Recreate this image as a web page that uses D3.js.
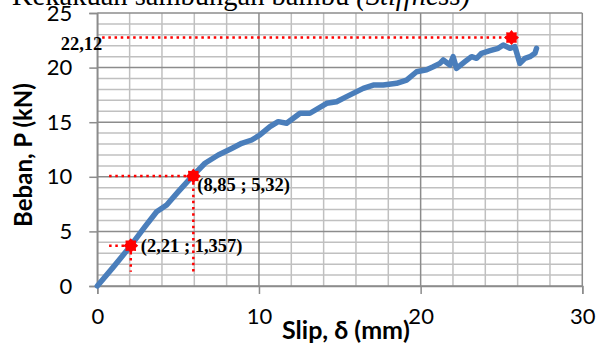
<!DOCTYPE html>
<html><head><meta charset="utf-8">
<script src="https://cdn.jsdelivr.net/npm/d3@7/dist/d3.min.js"></script>
<style>body{margin:0;background:#fff;}svg{display:block;}</style>
</head><body>
<svg id="c" width="597" height="345"></svg>
<script>
const slip = [0,1,2.07,2.95,3.67,4.29,5.01,5.84,6.66,7.48,8.31,8.93,9.55,10.06,10.68,11.19,11.71,12.54,13.15,14.19,14.8,15.42,16.45,17.07,17.69,18.51,19.13,19.75,20.37,20.78,21.19,21.4,21.81,22.01,22.22,22.74,23.15,23.46,23.77,24.29,24.8,25.11,25.52,25.83,26.14,26.45,26.76,27.07,27.17];
const load = [0,1.75,3.69,5.43,6.8,7.42,8.64,10.0,11.24,12.0,12.6,13.07,13.37,13.83,14.59,15.05,14.9,15.82,15.82,16.73,16.88,17.34,18.1,18.4,18.4,18.56,18.86,19.62,19.8,20.08,20.39,20.7,20.24,21.0,19.93,20.54,21.0,20.85,21.31,21.55,21.77,22.07,21.77,21.92,20.39,20.85,21.0,21.31,21.77];
const markX = [2.07,5.94,25.62];
const markY = [3.69,10.07,22.75];
const markLabels = ["(2,21 ; 1,357)","(8,85 ; 5,32)","22,12"];
const guideXStart = [0.73,0.73,0.3];
const guideYEnd = [1.3,1.3,null];
const xTicks = [0,10,20,30];
const yTicks = [0,5,10,15,20,25];
const title = "Kekakuan sambungan bambu ";
const titleItalic = "(Stiffness)";
const xTitle = "Slip, δ (mm)";
const yTitle = "Beban, P (kN)";

const svg = d3.select("#c");
const x = d3.scaleLinear().domain([0,30]).range([97.3,582.3]);
const y = d3.scaleLinear().domain([0,25]).range([286,13]);

// grid
const g = svg.append("g");
const minorX = d3.range(0,31,2).filter(v=>v%10!==0);
const minorY = d3.range(0,26,1).filter(v=>v%5!==0);
g.selectAll(".mx").data(minorX).join("line").attr("x1",d=>x(d)).attr("x2",d=>x(d)).attr("y1",y(0)).attr("y2",y(25)).attr("stroke","#c0c0c0").attr("stroke-width",1.5);
g.selectAll(".my").data(minorY).join("line").attr("y1",d=>y(d)).attr("y2",d=>y(d)).attr("x1",x(0)).attr("x2",x(30)).attr("stroke","#c0c0c0").attr("stroke-width",1.5);
g.selectAll(".Mx").data(xTicks).join("line").attr("x1",d=>x(d)).attr("x2",d=>x(d)).attr("y1",y(0)).attr("y2",y(25)).attr("stroke","#8c8c8c").attr("stroke-width",1.5);
g.selectAll(".My").data(yTicks).join("line").attr("y1",d=>y(d)).attr("y2",d=>y(d)).attr("x1",x(0)).attr("x2",x(30)).attr("stroke","#8c8c8c").attr("stroke-width",1.5);

// axes
const ax = svg.append("g").attr("transform",`translate(0,${y(0)})`)
  .call(d3.axisBottom(x).tickValues(xTicks).tickSize(8).tickPadding(14).tickFormat(d3.format("d")));
const ay = svg.append("g").attr("transform",`translate(${x(0)},0)`)
  .call(d3.axisLeft(y).tickValues(yTicks).tickSize(8).tickPadding(17).tickFormat(d3.format("d")));
[ax,ay].forEach(a=>{
  a.selectAll("path,line").attr("stroke","#8c8c8c").attr("stroke-width",1.5);
  a.selectAll("text").attr("font-family","Lato").attr("font-size",22).attr("fill","#000");
});

// guides
const gl = svg.append("g").attr("stroke","#ff0000").attr("stroke-width",2.5).attr("stroke-dasharray","2.5,3.7").attr("fill","none");
markX.forEach((mx,i)=>{
  gl.append("line").attr("x1",x(guideXStart[i])).attr("x2",x(mx)).attr("y1",y(markY[i])).attr("y2",y(markY[i]));
  if(guideYEnd[i]!==null) gl.append("line").attr("x1",x(mx)).attr("x2",x(mx)).attr("y1",y(markY[i])).attr("y2",y(guideYEnd[i]));
});

// curve
const pts = slip.map((s,i)=>[s,load[i]]);
svg.append("path").datum(pts).attr("fill","none").attr("stroke","#4a7ebb").attr("stroke-width",5.5)
  .attr("stroke-linejoin","round").attr("stroke-linecap","round")
  .attr("d",d3.line().x(d=>x(d[0])).y(d=>y(d[1])));

// markers
function starPath(r1,r2,n){const p=[];for(let k=0;k<2*n;k++){const r=k%2?r2:r1;const a=Math.PI*k/n-Math.PI/2;p.push([r*Math.cos(a),r*Math.sin(a)]);}return "M"+p.join("L")+"Z";}
svg.selectAll(".mk").data(markX).join("path").attr("d",starPath(7.5,5.5,8))
  .attr("transform",(d,i)=>`translate(${x(d)},${y(markY[i])})`).attr("fill","#ff0000");

// labels
const lbl = svg.append("g").attr("font-family","Liberation Serif").attr("font-size",18.5).attr("font-weight","bold").attr("fill","#000");
lbl.append("text").attr("x",x(markX[0])+10).attr("y",y(markY[0])+6).text(markLabels[0]);
lbl.append("text").attr("x",x(markX[1])+4).attr("y",y(markY[1])+15).text(markLabels[1]);
lbl.append("text").attr("x",x(0)+5).attr("y",y(markY[2])+12).attr("text-anchor","end").text(markLabels[2]);

// titles
const t = svg.append("text").attr("x",12).attr("y",5).attr("font-family","Liberation Serif").attr("font-size",28.5).attr("fill","#000");
t.append("tspan").text(title);
t.append("tspan").attr("font-style","italic").text(titleItalic);

svg.append("text").attr("x",346).attr("y",339).attr("text-anchor","middle").attr("font-family","Lato").attr("font-weight","bold").attr("font-size",25).attr("fill","#000").text(xTitle);
svg.append("text").attr("transform","translate(32,155) rotate(-90)").attr("text-anchor","middle").attr("font-family","Lato").attr("font-weight","bold").attr("font-size",24).attr("fill","#000").text(yTitle);
</script>
</body></html>
